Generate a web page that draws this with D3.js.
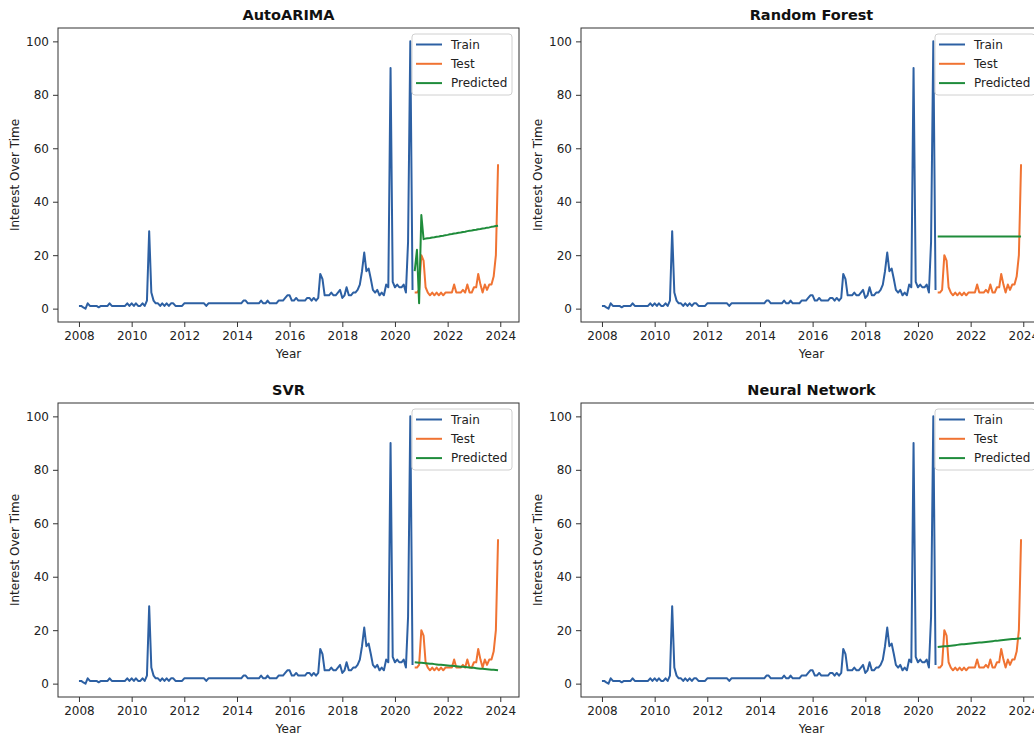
<!DOCTYPE html>
<head>
  <meta charset="utf-8">
  <script src="https://d3js.org/d3.v7.min.js"></script>
  <style>
    body { margin:0; background:#fff; }
    svg { display:block; font-family:"DejaVu Sans", sans-serif; }
    .tick text { font-size:12px; fill:#222; }
    .tick line { stroke:#333; }
  </style>
</head>
<body>
<script>
  var width = 1034, height = 735;

  // monthly series, train Jan 2008 - Sep 2020, test Oct 2020 - Dec 2023
  var trainStart = new Date(2008, 0, 1), testStart = new Date(2020, 9, 1);
  var train = [
    1, 1, 0.5, 0, 2, 1, 1, 1, 1, 0.5, 1, 1,      // 2008
    1, 1, 2, 1, 1, 1, 1, 1, 1, 1, 2, 1,          // 2009
    2, 1, 2, 1, 1, 2, 1, 3, 29, 6, 3, 2,         // 2010
    2, 1, 2, 1, 2, 1, 2, 2, 1, 1, 1, 1,          // 2011
    2, 2, 2, 2, 2, 2, 2, 2, 2, 2, 1, 2,          // 2012
    2, 2, 2, 2, 2, 2, 2, 2, 2, 2, 2, 2,          // 2013
    2, 2, 2, 3, 3, 2, 2, 2, 2, 2, 2, 3,          // 2014
    2, 2, 3, 2, 2, 2, 2, 3, 3, 3, 4, 5,          // 2015
    5, 3, 3, 4, 3, 3, 3, 3, 4, 4, 3, 4,          // 2016
    3, 4, 13, 11, 5, 5, 5, 6, 5, 5, 6, 7,        // 2017
    4, 5, 8, 5, 5, 6, 6, 7, 9, 14, 21, 14,       // 2018
    15, 11, 7, 6, 7, 5, 6, 5, 9, 8, 90, 10,      // 2019
    8, 9, 8, 8, 9, 6, 25, 100, 7                 // 2020
  ];
  var test = [
    6, 6, 7,
    20, 18, 8, 6, 5, 6, 5, 6, 5, 6, 5, 6,
    6, 6, 6, 9, 6, 6, 6, 7, 6, 9, 6, 6,
    8, 8, 13, 9, 6, 9, 7, 9, 9, 12, 20, 54
  ];

  var predArima = [14, 22, 2, 35,
    26, 26.2, 26.3, 26.4, 26.6, 26.7, 26.9, 27.0, 27.2, 27.3, 27.5, 27.6,
    27.8, 27.9, 28.1, 28.2, 28.4, 28.5, 28.7, 28.8, 29.0, 29.1, 29.2, 29.4,
    29.5, 29.7, 29.8, 30.0, 30.1, 30.3, 30.4, 30.6, 30.7, 30.9, 31];
  var predRF = [27, 27, 27, 27, 27, 27, 27, 27, 27, 27, 27, 27, 27,
    27, 27, 27, 27, 27, 27, 27, 27, 27, 27, 27, 27, 27,
    27, 27, 27, 27, 27, 27, 27, 27, 27, 27, 27, 27, 27];
  var predSVR = [8.0, 7.9, 7.8, 7.8, 7.7, 7.6, 7.5, 7.4, 7.4, 7.3, 7.2, 7.1, 7.1,
    7.0, 6.9, 6.8, 6.7, 6.7, 6.6, 6.5, 6.4, 6.3, 6.3, 6.2, 6.1, 6.0,
    5.9, 5.9, 5.8, 5.7, 5.6, 5.6, 5.5, 5.4, 5.3, 5.2, 5.2, 5.1, 5.0];
  var predNN = [13.7, 13.8, 13.9, 14.0, 14.0, 14.1, 14.2, 14.3, 14.4, 14.5, 14.6, 14.7, 14.7,
    14.8, 14.9, 15.0, 15.1, 15.2, 15.3, 15.4, 15.4, 15.5, 15.6, 15.7, 15.8, 15.9,
    16.0, 16.0, 16.1, 16.2, 16.3, 16.4, 16.5, 16.6, 16.7, 16.7, 16.8, 16.9, 17.0];

  var models = ["AutoARIMA", "Random Forest", "SVR", "Neural Network"];
  var predictions = [predArima, predRF, predSVR, predNN];
  var yearTicks = [2008, 2010, 2012, 2014, 2016, 2018, 2020, 2022, 2024];
  var yTicks = [0, 20, 40, 60, 80, 100];
  var legendLabels = ["Train", "Test", "Predicted"];
  var colors = ["#2d60a3", "#f07332", "#1f8c3b"];

  var axW = 461, axH = 294;
  var panelPos = [[58, 28], [581, 28], [58, 403], [581, 403]];

  var svg = d3.select("body").append("svg")
    .attr("width", width).attr("height", height);

  var trainDates = d3.timeMonth.range(trainStart, d3.timeMonth.offset(trainStart, train.length));
  var testDates = d3.timeMonth.range(testStart, d3.timeMonth.offset(testStart, test.length));

  // matplotlib style 5% margins
  var t0 = trainDates[0], t1 = testDates[testDates.length - 1];
  var pad = (t1 - t0) * 0.05;
  var x = d3.scaleTime().domain([new Date(+t0 - pad), new Date(+t1 + pad)]).range([0, axW]);
  var y = d3.scaleLinear().domain([-5, 105]).range([axH, 0]);

  var line = d3.line()
    .x(function(d) { return x(d[0]); })
    .y(function(d) { return y(d[1]); });

  models.forEach(function(name, i) {
    var g = svg.append("g")
      .attr("transform", "translate(" + panelPos[i][0] + "," + panelPos[i][1] + ")");

    var xAxis = d3.axisBottom(x)
      .tickValues(yearTicks.map(function(yr) { return new Date(yr, 0, 1); }))
      .tickFormat(d3.timeFormat("%Y"))
      .tickSize(5).tickPadding(4);
    g.append("g").attr("transform", "translate(0," + axH + ")").call(xAxis)
      .call(function(a) { a.select(".domain").remove(); });

    var yAxis = d3.axisLeft(y).tickValues(yTicks).tickSize(5).tickPadding(4);
    g.append("g").call(yAxis)
      .call(function(a) { a.select(".domain").remove(); });

    g.selectAll(".tick text").attr("font-family", "DejaVu Sans").style("font-size", "12px");

    var series = [
      d3.zip(trainDates, train),
      d3.zip(testDates, test),
      d3.zip(testDates, predictions[i])
    ];
    g.selectAll("path.series").data(series).enter().append("path")
      .attr("class", "series")
      .attr("d", line)
      .attr("fill", "none")
      .attr("stroke", function(d, k) { return colors[k]; })
      .attr("stroke-width", 2)
      .attr("stroke-linejoin", "round");

    g.append("rect")
      .attr("width", axW).attr("height", axH)
      .attr("fill", "none").attr("stroke", "#333").attr("stroke-width", 1);

    // title and labels
    g.append("text")
      .attr("x", axW / 2).attr("y", -8)
      .attr("text-anchor", "middle")
      .style("font-size", "14.5px").style("font-weight", "bold").attr("fill", "#111")
      .text(name);
    g.append("text")
      .attr("x", axW / 2).attr("y", axH + 36)
      .attr("text-anchor", "middle")
      .style("font-size", "12px").attr("fill", "#222")
      .text("Year");
    g.append("text")
      .attr("transform", "translate(-43," + (axH / 2) + ") rotate(-90)")
      .attr("text-anchor", "middle").attr("dy", "0.35em")
      .style("font-size", "12px").attr("fill", "#222")
      .text("Interest Over Time");

    // legend
    var lg = g.append("g").attr("transform", "translate(" + (axW - 107) + ",6)");
    lg.append("rect")
      .attr("width", 100).attr("height", 61).attr("rx", 3)
      .attr("fill", "#fff").attr("fill-opacity", 0.85)
      .attr("stroke", "#d0d0d0");
    legendLabels.forEach(function(lab, k) {
      var ry = 10.5 + k * 19.3;
      lg.append("line")
        .attr("x1", 4).attr("x2", 30).attr("y1", ry).attr("y2", ry)
        .attr("stroke", colors[k]).attr("stroke-width", 2);
      lg.append("text")
        .attr("x", 39).attr("y", ry).attr("dy", "0.35em")
        .style("font-size", "12px").attr("fill", "#222")
        .text(lab);
    });
  });
</script>
</body>
